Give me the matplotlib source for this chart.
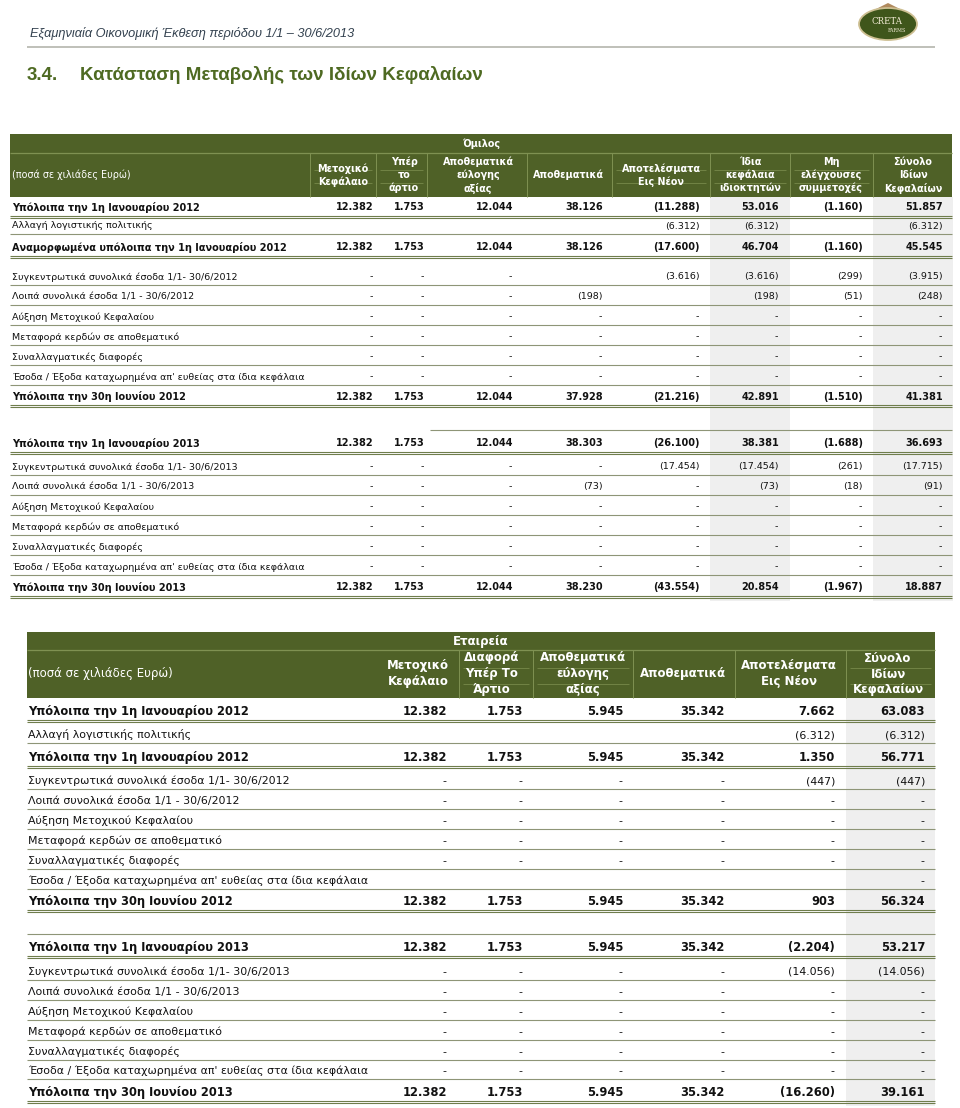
"""
Statement of changes in equity (Creta Farms, H1 2013) redrawn as a matplotlib table.
"""
import matplotlib

matplotlib.use("Agg")
import matplotlib.pyplot as plt
from matplotlib.patches import Ellipse, Polygon, Rectangle

# ---------------------------------------------------------------- data
PAGE_HEADER = "Εξαμηνιαία Οικονομική Έκθεση περιόδου 1/1 – 30/6/2013"
SECTION_NO = "3.4."
SECTION_TITLE = "Κατάσταση Μεταβολής των Ιδίων Κεφαλαίων"
UNITS = "(ποσά σε χιλιάδες Ευρώ)"

GROUP_TITLE = "Όμιλος"
GROUP_COLUMNS = [
    "Μετοχικό\nΚεφάλαιο", "Υπέρ\nτο\nάρτιο", "Αποθεματικά\nεύλογης\nαξίας",
    "Αποθεματικά", "Αποτελέσματα\nΕις Νέον", "Ίδια\nκεφάλαια\nιδιοκτητών",
    "Μη\nελέγχουσες\nσυμμετοχές", "Σύνολο\nΙδίων\nΚεφαλαίων",
]
COMPANY_TITLE = "Εταιρεία"
COMPANY_COLUMNS = [
    "Μετοχικό\nΚεφάλαιο", "Διαφορά\nΥπέρ Το\nΆρτιο", "Αποθεματικά\nεύλογης\nαξίας",
    "Αποθεματικά", "Αποτελέσματα\nΕις Νέον", "Σύνολο\nΙδίων\nΚεφαλαίων",
]

MOVEMENTS_2012 = [
    "Συγκεντρωτικά συνολικά έσοδα 1/1- 30/6/2012",
    "Λοιπά συνολικά έσοδα 1/1 - 30/6/2012",
    "Αύξηση Μετοχικού Κεφαλαίου",
    "Μεταφορά κερδών σε αποθεματικό",
    "Συναλλαγματικές διαφορές",
    "Έσοδα / Έξοδα καταχωρημένα απ' ευθείας στα ίδια κεφάλαια",
]
MOVEMENTS_2013 = [s.replace("2012", "2013") for s in MOVEMENTS_2012]

GROUP_LABELS = (
    ["Υπόλοιπα την 1η Ιανουαρίου 2012", "Αλλαγή λογιστικής πολιτικής",
     "Αναμορφωμένα υπόλοιπα την 1η Ιανουαρίου 2012"]
    + MOVEMENTS_2012 + ["Υπόλοιπα την 30η Ιουνίου 2012", None,
                        "Υπόλοιπα την 1η Ιανουαρίου 2013"]
    + MOVEMENTS_2013 + ["Υπόλοιπα την 30η Ιουνίου 2013"]
)
COMPANY_LABELS = (
    ["Υπόλοιπα την 1η Ιανουαρίου 2012", "Αλλαγή λογιστικής πολιτικής",
     "Υπόλοιπα την 1η Ιανουαρίου 2012"]
    + MOVEMENTS_2012 + ["Υπόλοιπα την 30η Ιουνίου 2012", None,
                        "Υπόλοιπα την 1η Ιανουαρίου 2013"]
    + MOVEMENTS_2013 + ["Υπόλοιπα την 30η Ιουνίου 2013"]
)
BOLD_ROWS = [0, 2, 9, 11, 18]

D = "-"
GROUP_VALUES_2012 = [
    ["12.382", "1.753", "12.044", "38.126", "(11.288)", "53.016", "(1.160)", "51.857"],
    ["", "", "", "", "(6.312)", "(6.312)", "", "(6.312)"],
    ["12.382", "1.753", "12.044", "38.126", "(17.600)", "46.704", "(1.160)", "45.545"],
    [D, D, D, "", "(3.616)", "(3.616)", "(299)", "(3.915)"],
    [D, D, D, "(198)", "", "(198)", "(51)", "(248)"],
    [D] * 8,
    [D] * 8,
    [D] * 8,
    [D] * 8,
    ["12.382", "1.753", "12.044", "37.928", "(21.216)", "42.891", "(1.510)", "41.381"],
]
GROUP_VALUES_2013 = [
    ["12.382", "1.753", "12.044", "38.303", "(26.100)", "38.381", "(1.688)", "36.693"],
    [D, D, D, D, "(17.454)", "(17.454)", "(261)", "(17.715)"],
    [D, D, D, "(73)", D, "(73)", "(18)", "(91)"],
    [D] * 8,
    [D] * 8,
    [D] * 8,
    [D] * 8,
    ["12.382", "1.753", "12.044", "38.230", "(43.554)", "20.854", "(1.967)", "18.887"],
]
COMPANY_VALUES_2012 = [
    ["12.382", "1.753", "5.945", "35.342", "7.662", "63.083"],
    ["", "", "", "", "(6.312)", "(6.312)"],
    ["12.382", "1.753", "5.945", "35.342", "1.350", "56.771"],
    [D, D, D, D, "(447)", "(447)"],
    [D] * 6,
    [D] * 6,
    [D] * 6,
    [D] * 6,
    ["", "", "", "", "", D],
    ["12.382", "1.753", "5.945", "35.342", "903", "56.324"],
]
COMPANY_VALUES_2013 = [
    ["12.382", "1.753", "5.945", "35.342", "(2.204)", "53.217"],
    [D, D, D, D, "(14.056)", "(14.056)"],
    [D] * 6,
    [D] * 6,
    [D] * 6,
    [D] * 6,
    [D] * 6,
    ["12.382", "1.753", "5.945", "35.342", "(16.260)", "39.161"],
]

# ---------------------------------------------------------------- style
GREEN = "#4f6127"
GREEN_LINE = "#7f9152"
ROW_LINE = "#8e9577"
DOUBLE_LINE = "#6f7d4c"
SHADE = "#efefef"
FONT = "DejaVu Sans"

GROUP_LAYOUT = dict(
    x0=10, x1=952, top=134, split=153, head_bottom=197,
    row_h=[20, 17, 23, 28, 20, 20, 20, 20, 20, 21, 24, 23, 22, 20, 20, 20, 20, 20, 22],
    bounds=[310, 376, 427, 527, 612, 710, 790, 873],
    centers=[343, 404, 478, 568, 661, 750, 831, 913],
    rights=[374, 425, 513, 603, 700, 779, 863, 943],
    shaded=[(710, 790), (873, 953)],
    gap_line_x0=430,
    label_x=12, fs=6.8, fs_bold=7.0, fs_head=6.9, head_step=13,
)
COMPANY_LAYOUT = dict(
    x0=27, x1=935, top=632, split=650, head_bottom=698,
    row_h=[23, 22, 24, 22, 20, 20, 20, 20, 20, 22, 23, 23, 23, 20, 20, 20, 20, 19, 23],
    bounds=[459, 533, 633, 735, 846],
    centers=[418, 492, 583, 683, 789, 888],
    rights=[447, 523, 623, 725, 835, 925],
    shaded=[(846, 935)],
    gap_line_x0=27,
    label_x=28, fs=7.9, fs_bold=8.3, fs_head=8.5, head_step=16,
)


def double_line(ax, y, x0, x1):
    ax.hlines([y - 1.2, y + 1.2], x0, x1, color=DOUBLE_LINE, lw=0.8)


def draw_table(ax, title, columns, labels, values, lay):
    x0, x1 = lay["x0"], lay["x1"]
    top, split, hb = lay["top"], lay["split"], lay["head_bottom"]

    # header band
    ax.add_patch(Rectangle((x0, top), x1 - x0, hb - top, color=GREEN, lw=0))
    ax.hlines(split, x0, x1, color=GREEN_LINE, lw=0.9)
    ax.vlines(lay["bounds"], split, hb, color=GREEN_LINE, lw=0.7)
    ax.text((x0 + x1) / 2, (top + split) / 2 + 0.5, title, color="white",
            fontsize=lay["fs_head"], fontweight="bold", ha="center", va="center",
            family=FONT)
    mid = (split + hb) / 2
    ax.text(lay["label_x"], mid, UNITS, color="white", fontsize=lay["fs_head"],
            ha="left", va="center", family=FONT)
    edges = lay["bounds"] + [x1]
    step = lay["head_step"]
    for i, (name, cx) in enumerate(zip(columns, lay["centers"])):
        parts = name.split("\n")
        n = len(parts)
        for k, part in enumerate(parts):
            y = mid + (k - (n - 1) / 2) * step
            ax.text(cx, y, part, color="white", fontsize=lay["fs_head"],
                    fontweight="bold", ha="center", va="center", family=FONT)
        if n == 3:
            left = edges[i - 1] if i > 0 else x0
            for k in range(2):
                y = mid + (k - 0.5) * step + 1.5
                ax.hlines(y, left + 4, edges[i] - 4, color=GREEN_LINE, lw=0.5)

    # row boundaries
    lines = []
    y = hb
    for h in lay["row_h"]:
        y += h
        lines.append(y)

    for sx0, sx1 in lay["shaded"]:
        ax.add_patch(Rectangle((sx0, hb), sx1 - sx0, lines[-1] + 4 - hb,
                               color=SHADE, lw=0, zorder=0))

    for r, (label, line) in enumerate(zip(labels, lines)):
        if label is None:
            ax.hlines(line, lay["gap_line_x0"], x1, color=ROW_LINE, lw=0.8)
            continue
        bold = r in BOLD_ROWS
        fs = lay["fs_bold"] if bold else lay["fs"]
        ty = line - (9.5 if bold else 8)
        ax.text(lay["label_x"], ty, label, fontsize=fs, family=FONT,
                fontweight="bold" if bold else "normal", ha="left", va="center",
                color="#111111")
        for val, rx in zip(values[r], lay["rights"]):
            if val == "":
                continue
            if val == D:
                ax.text(rx - 3, ty, val, fontsize=fs, family=FONT, ha="center",
                        va="center", color="#111111")
            else:
                ax.text(rx, ty, val, fontsize=fs, family=FONT, ha="right", va="center",
                        fontweight="bold" if bold else "normal", color="#111111")
        if bold:
            double_line(ax, line, x0, x1)
        else:
            ax.hlines(line, x0, x1, color=ROW_LINE, lw=0.8)


def draw_page(ax):
    # running header
    ax.text(30, 33, PAGE_HEADER, fontsize=9.2, style="italic", color="#33414f",
            family="Liberation Sans", ha="left", va="center")
    ax.hlines(47, 27, 935, color="#b4b5ad", lw=1.2)

    # logo
    ax.add_patch(Polygon([[870, 12], [888, 3], [906, 12]], closed=True,
                         color="#b08a5e", lw=0))
    ax.add_patch(Ellipse((888, 24), 58, 32, facecolor="#3f561b",
                         edgecolor="#cdbf92", lw=1.3))
    ax.text(887, 22, "CRETA", fontsize=6.2, color="#f3ecd6", family="DejaVu Serif",
            ha="center", va="center")
    ax.text(897, 31, "FARMS", fontsize=3.4, color="#f3ecd6", family="DejaVu Serif",
            ha="center", va="center")

    # section title
    ax.text(27, 75, SECTION_NO, fontsize=13.5, fontweight="bold", color="#4e6a22",
            family="Liberation Sans", ha="left", va="center")
    ax.text(80, 75, SECTION_TITLE, fontsize=13.5, fontweight="bold", color="#4e6a22",
            family="Liberation Sans", ha="left", va="center")


def main():
    fig = plt.figure(figsize=(9.6, 11.08), dpi=100)
    ax = fig.add_axes([0, 0, 1, 1])
    ax.set_xlim(0, 960)
    ax.set_ylim(1108, 0)
    ax.axis("off")

    draw_page(ax)
    draw_table(ax, GROUP_TITLE, GROUP_COLUMNS, GROUP_LABELS,
               GROUP_VALUES_2012 + [None] + GROUP_VALUES_2013, GROUP_LAYOUT)
    draw_table(ax, COMPANY_TITLE, COMPANY_COLUMNS, COMPANY_LABELS,
               COMPANY_VALUES_2012 + [None] + COMPANY_VALUES_2013, COMPANY_LAYOUT)

    fig.savefig("out.png", dpi=100, facecolor="white")
    plt.close(fig)


if __name__ == "__main__":
    main()
